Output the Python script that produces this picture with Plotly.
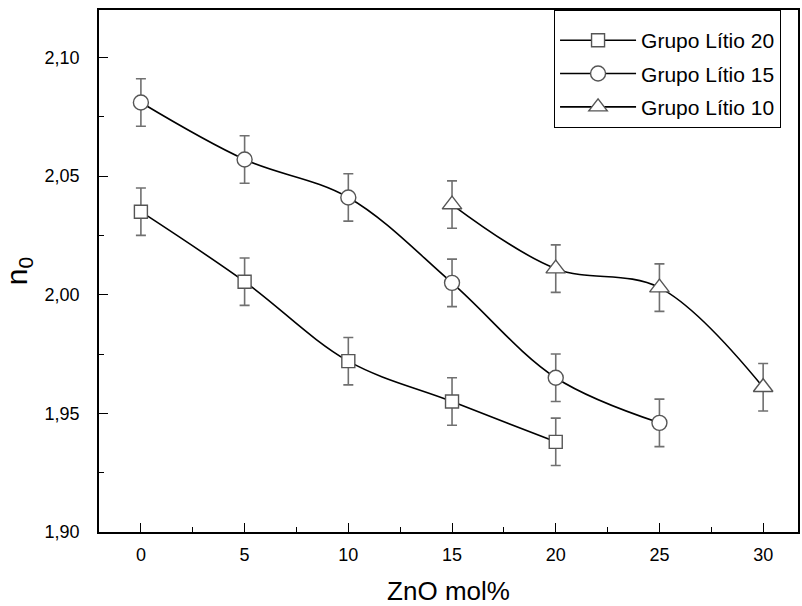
import plotly.graph_objects as go

x20 = [0, 5, 10, 15, 20]
y20 = [2.035, 2.0055, 1.972, 1.955, 1.938]
x15 = [0, 5, 10, 15, 20, 25]
y15 = [2.081, 2.057, 2.041, 2.005, 1.965, 1.946]
x10 = [15, 20, 25, 30]
y10 = [2.038, 2.011, 2.003, 1.961]
err = 0.01
names = ["Grupo Lítio 20", "Grupo Lítio 15", "Grupo Lítio 10"]

FONT = "Liberation Sans, Arial, sans-serif"

fig = go.Figure()
for i, (xs, ys, nm, sym, sz) in enumerate([
    (x20, y20, names[0], "square", 13),
    (x15, y15, names[1], "circle", 15),
    (x10, y10, names[2], "triangle-up", 17),
]):
    fig.add_trace(go.Scatter(
        x=xs, y=ys, name=nm, mode="lines+markers",
        legendgroup=str(i),
        line=dict(color="black", width=1.6, shape="spline", smoothing=1.0),
        marker=dict(symbol=sym, size=sz, color="white",
                    line=dict(color="#555555", width=1.4)),
        error_y=dict(type="constant", value=err, color="#707070",
                     thickness=1.6, width=5),
    ))

fig.update_layout(
    width=802, height=606,
    margin=dict(l=99, r=2, t=10, b=74),
    paper_bgcolor="white", plot_bgcolor="white",
    font=dict(family=FONT, color="black", size=16),
    showlegend=True,
    legend=dict(x=0.651, y=1.0, xanchor="left", yanchor="top",
                bordercolor="black", borderwidth=1, bgcolor="white",
                font=dict(size=21, family=FONT), itemwidth=76,
                tracegroupgap=3,
                title=dict(text=" ", font=dict(size=7))),
    xaxis=dict(range=[-2.02, 31.68], tickmode="array",
               tickvals=[0, 5, 10, 15, 20, 25, 30],
               ticktext=["0", "5", "10", "15", "20", "25", "30"],
               ticks="inside", ticklen=9, tickwidth=1.3, tickcolor="black",
               minor=dict(ticks="inside", ticklen=5, dtick=2.5, tick0=0, tickcolor="black", tickwidth=1.3),
               showline=True, linecolor="black", linewidth=1.5, mirror=True,
               showgrid=False, zeroline=False,
               tickfont=dict(size=18), ticklabelstandoff=6,
               title=dict(text="ZnO mol%", font=dict(size=26), standoff=20)),
    yaxis=dict(range=[1.90, 2.12], tickmode="array",
               tickvals=[1.90, 1.95, 2.00, 2.05, 2.10],
               ticktext=["1,90", "1,95", "2,00", "2,05", "2,10"],
               ticks="inside", ticklen=9, tickwidth=1.3, tickcolor="black",
               minor=dict(ticks="inside", ticklen=5, dtick=0.025, tick0=1.9, tickcolor="black", tickwidth=1.3),
               showline=True, linecolor="black", linewidth=1.5, mirror=True,
               showgrid=False, zeroline=False,
               tickfont=dict(size=18), ticklabelstandoff=14,
               title=dict(text="n<sub>0</sub>", font=dict(size=30), standoff=12)),
)

fig.write_html("out.html")
